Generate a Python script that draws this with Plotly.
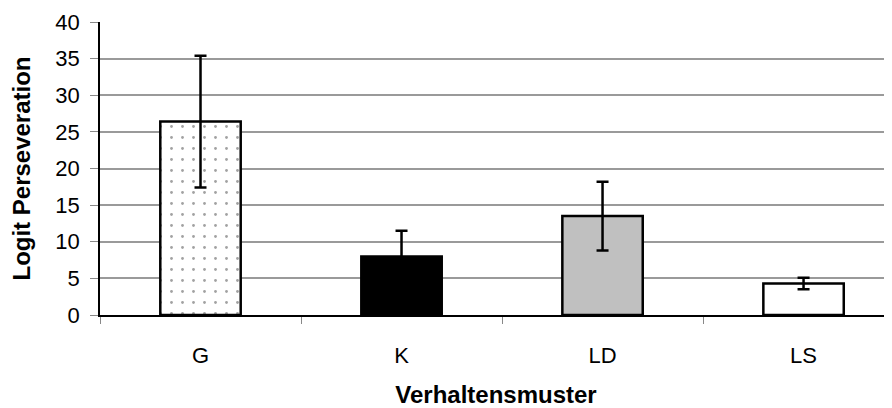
import plotly.graph_objects as go

categories = ["G", "K", "LD", "LS"]
values = [26.4, 8.0, 13.5, 4.3]
errors = [9.0, 3.5, 4.7, 0.8]
fill_colors = ["white", "black", "#c0c0c0", "white"]
y_ticks = [0, 5, 10, 15, 20, 25, 30, 35, 40]

FONT = "Liberation Sans, Arial, sans-serif"

fig = go.Figure()
fig.add_trace(go.Bar(
    x=categories,
    y=values,
    width=0.4,
    marker=dict(
        color=fill_colors,
        line=dict(color="black", width=2.5),
        pattern=dict(
            shape=[".", "", "", ""],
            size=11,
            solidity=0.05,
            fgcolor="#222222",
            bgcolor="white",
            fillmode="overlay",
        ),
    ),
    error_y=dict(type="data", array=errors, color="black", thickness=2.5, width=6),
    showlegend=False,
))

# page body has an 8px default margin; the figure is sized to fit the window
fig.update_layout(
    width=884, height=400, autosize=False,
    margin=dict(l=92, r=0, t=14, b=93),
    paper_bgcolor="white", plot_bgcolor="white",
    font=dict(family=FONT, size=22, color="black"),
    bargap=0.6,
)
fig.update_xaxes(
    range=[-0.5, 3.44],
    automargin=False,
    showline=True, linecolor="black", linewidth=1.5,
    ticks="outside", tickson="boundaries", ticklen=7, tickcolor="#888888",
    tickfont=dict(size=22), ticklabelstandoff=20,
    title=dict(text="<b>Verhaltensmuster</b>", font=dict(size=24), standoff=26),
    showgrid=False,
)
fig.update_yaxes(
    range=[0, 40], tickvals=y_ticks,
    automargin=False,
    showline=True, linecolor="black", linewidth=1.5,
    ticks="outside", ticklen=8, tickcolor="#888888",
    ticklabelstandoff=6,
    showgrid=True, gridcolor="#9a9a9a", gridwidth=1.5,
    tickfont=dict(size=22),
    title=dict(text="<b>Logit Perseveration</b>", font=dict(size=24), standoff=24),
    zeroline=False,
)

fig.write_html("out.html")
